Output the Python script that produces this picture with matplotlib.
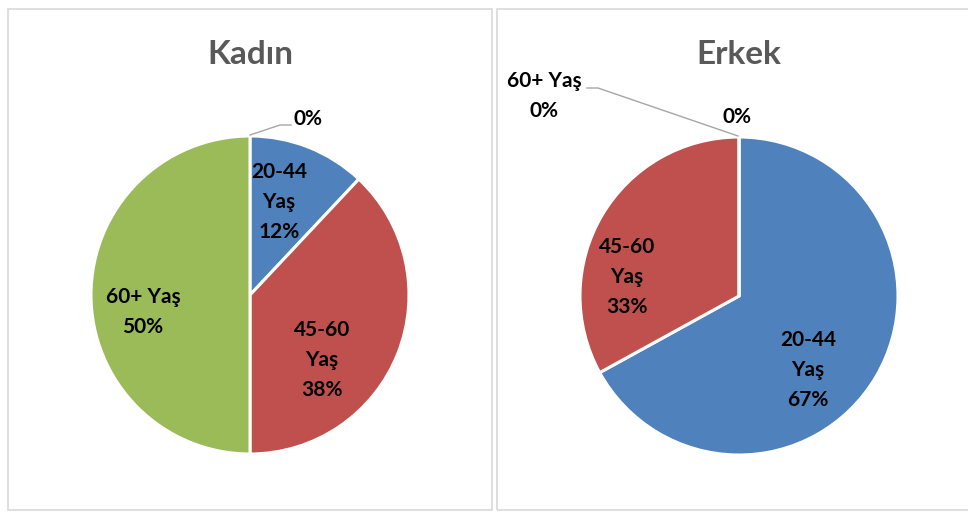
import matplotlib.pyplot as plt
from matplotlib.patches import Rectangle

plt.rcParams['font.family'] = ['Lato', 'DejaVu Sans']

# data
categories = ["", "20-44 Yaş", "45-60 Yaş", "60+ Yaş"]
kadin = [0, 12, 38, 50]
erkek = [0, 67, 33, 0]
colors = ["#F79646", "#4F81BD", "#C0504D", "#9BBB59"]

H = 512


def Y(y):
    return H - y


fig = plt.figure(figsize=(9.68, 5.12), dpi=100)
ax = fig.add_axes([0, 0, 1, 1])

# panel frames
ax.add_patch(Rectangle((8, Y(510)), 484, 501, fill=False, edgecolor="#D9D9D9", lw=1.2))
ax.add_patch(Rectangle((497, Y(510)), 480, 501, fill=False, edgecolor="#D9D9D9", lw=1.2))

wp = dict(edgecolor="white", linewidth=2.2)
ax.pie(kadin, colors=colors, startangle=90, counterclock=False,
       center=(250, Y(295)), radius=159, wedgeprops=wp)
ax.pie(erkek, colors=colors, startangle=90, counterclock=False,
       center=(739, Y(296)), radius=159, wedgeprops=wp)

ax.set_xlim(0, 968)
ax.set_ylim(0, 512)
ax.set_aspect("equal")
ax.axis("off")

# titles
tkw = dict(ha="center", va="center", fontsize=24, fontweight="bold", color="#595959")
ax.text(250, Y(55), "Kadın", **tkw)
ax.text(739, Y(55), "Erkek", **tkw)

lkw = dict(ha="center", va="center", fontsize=15, fontweight="bold", color="black",
           linespacing=1.6)


def lab(name, val):
    if name:
        return name.replace(" ", "\n") + "\n" + f"{val}%"
    return f"{val}%"


# Kadin labels
ax.text(308, Y(119), lab(categories[0], kadin[0]), **lkw)
ax.plot([250, 280, 291], [Y(135), Y(125), Y(125)], color="#A6A6A6", lw=1)
ax.text(279, Y(202), lab(categories[1], kadin[1]), **lkw)
ax.text(322, Y(360), lab(categories[2], kadin[2]), **lkw)
ax.text(143, Y(312), categories[3] + "\n" + f"{kadin[3]}%", **lkw)

# Erkek labels
ax.text(737, Y(117), lab(categories[0], erkek[0]), **lkw)
ax.text(627, Y(277), lab(categories[2], erkek[2]), **lkw)
ax.text(808, Y(370), lab(categories[1], erkek[1]), **lkw)
ax.text(544, Y(96), categories[3] + "\n" + f"{erkek[3]}%", **lkw)
ax.plot([587, 598, 738], [Y(88), Y(88), Y(136)], color="#A6A6A6", lw=1)

fig.savefig("out.png", dpi=100)
